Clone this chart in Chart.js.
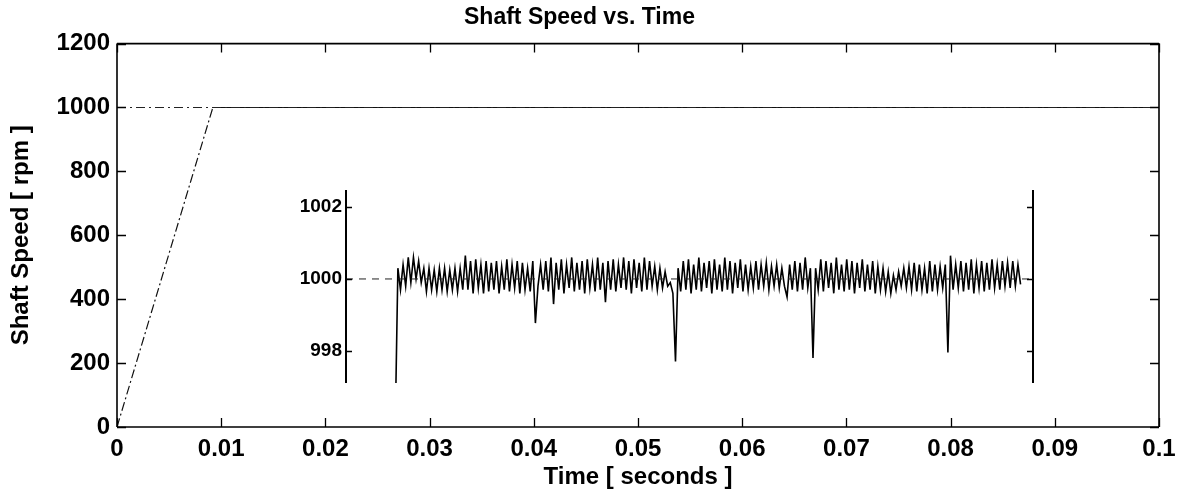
<!DOCTYPE html>
<html>
<head>
<meta charset="utf-8">
<script src="https://cdn.jsdelivr.net/npm/chart.js@4.4.0/dist/chart.umd.min.js"></script>
<style>
  body { margin: 0; background: #fff; }
  #wrap { position: relative; width: 1187px; height: 500px; }
  #mainChart { position: absolute; left: 0; top: 0; }
  #insetChart { position: absolute; left: 290px; top: 180px; }
</style>
</head>
<body>
<div id="wrap">
  <canvas id="mainChart" width="1187" height="500"></canvas>
  <canvas id="insetChart" width="760" height="215"></canvas>
</div>
<script>
// Main plot: shaft speed ramp and the 1000 rpm reference
const speedTime = [0, 0.0092, 0.1];
const speedValue = [0, 1000, 1000];
const refTime = [0, 0.1];
const refValue = [1000, 1000];
const xTicks = [0, 0.01, 0.02, 0.03, 0.04, 0.05, 0.06, 0.07, 0.08, 0.09, 0.1];
const yTicks = [0, 200, 400, 600, 800, 1000, 1200];

// Inset: zoom on the speed around 1000 rpm
const insetTicks = [998, 1000, 1002];
const insetStart = 0.02675;  // first sample [s]
const insetStep = 0.00025;   // sample spacing [s]
const insetSpeed = [
  996.0,
  1000.3, 999.7, 1000.4, 999.8, 1000.6, 999.9, 1000.6, 1000.0, 1000.5, 999.9,
  1000.3, 999.65, 1000.3, 999.7, 1000.25, 999.65, 1000.3, 999.7, 1000.3, 999.65,
  1000.25, 999.7, 1000.3, 999.65, 1000.3, 999.7,
  1000.65, 999.7, 1000.5, 999.6, 1000.55, 999.75, 1000.4, 999.6, 1000.5, 999.65,
  1000.45, 999.7, 1000.5, 999.6, 1000.35, 999.7, 1000.55, 999.65, 1000.4, 999.75,
  1000.5, 999.6, 1000.45, 999.7, 1000.3, 999.65, 1000.5,
  998.77,
  999.8, 1000.4, 999.7, 1000.5, 999.65, 1000.6, 999.3, 1000.45, 999.7, 1000.55,
  999.6, 1000.4, 999.75, 1000.6, 999.65, 1000.45, 999.7, 1000.5, 999.6, 1000.55,
  999.75, 1000.4, 999.65, 1000.6, 999.7, 1000.45,
  999.35,
  1000.5, 999.7, 1000.55, 999.65, 1000.4, 999.75, 1000.6, 999.7, 1000.5, 999.6,
  1000.55, 999.75, 1000.45, 999.65, 1000.6, 999.7, 1000.5, 999.8, 1000.35, 999.7,
  1000.3, 999.75, 1000.2, 999.8, 999.9, 999.6,
  997.7,
  1000.3, 999.65, 1000.5, 999.7, 1000.55, 999.6, 1000.4, 999.7, 1000.6, 999.65,
  1000.45, 999.75, 1000.5, 999.6, 1000.55, 999.7, 1000.4, 999.65, 1000.6, 999.7,
  1000.5, 999.6, 1000.45, 999.75, 1000.55, 999.65, 1000.4, 999.7, 1000.35, 999.75,
  1000.5, 999.7, 1000.4, 999.8, 1000.45, 999.7, 1000.35, 999.8, 1000.4, 999.75,
  1000.3, 999.8, 999.5, 1000.4, 999.7, 1000.5, 999.65, 1000.45, 999.7, 1000.6,
  999.75, 1000.3,
  997.8,
  1000.3, 999.7, 1000.55, 999.65, 1000.5, 999.75, 1000.45, 999.6, 1000.6, 999.7,
  1000.4, 999.65, 1000.55, 999.7, 1000.5, 999.6, 1000.45, 999.75, 1000.55, 999.65,
  1000.4, 999.7, 1000.5, 999.6, 1000.35, 999.7, 1000.3, 999.65, 1000.2, 999.6,
  1000.1, 999.7, 1000.2, 999.8, 1000.3, 999.75, 1000.35, 999.7, 1000.45, 999.65,
  1000.4, 999.7, 1000.3, 999.6, 1000.5, 999.65, 1000.4, 999.7, 1000.35, 999.75,
  1000.4,
  997.95,
  1000.65, 999.7, 1000.4, 999.75, 1000.5, 999.65, 1000.45, 999.7, 1000.55, 999.6,
  1000.4, 999.75, 1000.5, 999.65, 1000.45, 999.7, 1000.55, 999.75, 1000.4, 999.7,
  1000.5, 999.8, 1000.45, 999.75, 1000.5, 999.8, 1000.4, 999.85
];
const insetRefTime = [0.022, 0.0882];
const insetRefValue = [1000, 1000];

const FONT = '"Liberation Sans", Arial, sans-serif';

// MATLAB style box: frame lines plus inward tick marks on each side
const frameTicks = {
  id: 'frameTicks',
  afterDatasetsDraw(chart, args, opts) {
    const { ctx, chartArea: a, scales } = chart;
    const len = opts.tickLength;
    ctx.save();
    ctx.strokeStyle = '#000';
    ctx.lineWidth = opts.lineWidth;
    ctx.beginPath();
    opts.sides.forEach(s => {
      if (s === 'left') { ctx.moveTo(a.left, a.top); ctx.lineTo(a.left, a.bottom); }
      if (s === 'right') { ctx.moveTo(a.right, a.top); ctx.lineTo(a.right, a.bottom); }
      if (s === 'top') { ctx.moveTo(a.left, a.top); ctx.lineTo(a.right, a.top); }
      if (s === 'bottom') { ctx.moveTo(a.left, a.bottom); ctx.lineTo(a.right, a.bottom); }
    });
    ctx.stroke();
    ctx.lineWidth = 1.3;
    ctx.beginPath();
    if (opts.xTicks) {
      scales.x.ticks.forEach(t => {
        const px = Math.round(scales.x.getPixelForValue(t.value)) + 0.5;
        if (opts.sides.includes('bottom')) { ctx.moveTo(px, a.bottom); ctx.lineTo(px, a.bottom - len); }
        if (opts.sides.includes('top')) { ctx.moveTo(px, a.top); ctx.lineTo(px, a.top + len); }
      });
    }
    scales.y.ticks.forEach(t => {
      const py = Math.round(scales.y.getPixelForValue(t.value)) + 0.5;
      if (opts.sides.includes('left')) { ctx.moveTo(a.left, py); ctx.lineTo(a.left + len, py); }
      if (opts.sides.includes('right')) { ctx.moveTo(a.right, py); ctx.lineTo(a.right - len, py); }
    });
    ctx.stroke();
    ctx.restore();
  }
};

const toXY = (xs, ys) => xs.map((x, i) => ({ x: x, y: ys[i] }));

const mainChart = new Chart(document.getElementById('mainChart'), {
  type: 'line',
  data: {
    datasets: [
      {
        data: toXY(refTime, refValue),
        borderColor: '#222',
        borderWidth: 1,
        borderDash: [9, 4, 2, 4],
        pointRadius: 0
      },
      {
        data: toXY(speedTime, speedValue),
        borderColor: '#111',
        borderWidth: 1.2,
        pointRadius: 0,
        segment: {
          borderDash: c => c.p0DataIndex === 0 ? [9, 3, 2, 3] : undefined
        }
      }
    ]
  },
  options: {
    responsive: false,
    animation: false,
    layout: { padding: { left: 0, right: 28, top: 0, bottom: 0 } },
    plugins: {
      legend: { display: false },
      tooltip: { enabled: false },
      title: {
        display: true,
        text: 'Shaft Speed vs. Time',
        color: '#000',
        font: { family: FONT, size: 23, weight: 'bold' },
        padding: { top: 4, bottom: 12 }
      },
      frameTicks: { sides: ['left', 'right', 'top', 'bottom'], tickLength: 9, lineWidth: 1.6, xTicks: true }
    },
    scales: {
      x: {
        type: 'linear',
        min: 0,
        max: 0.1,
        afterBuildTicks: s => { s.ticks = xTicks.map(v => ({ value: v })); },
        afterFit: s => { s.height = 73; },
        grid: { display: false, drawTicks: false },
        border: { display: false },
        ticks: {
          color: '#000',
          padding: 8,
          maxRotation: 0,
          font: { family: FONT, size: 24, weight: 'bold' },
          callback: v => String(+v.toFixed(2))
        },
        title: {
          display: true,
          text: 'Time [ seconds ]',
          color: '#000',
          font: { family: FONT, size: 24, weight: 'bold' },
          padding: { top: 0, bottom: 8 }
        }
      },
      y: {
        min: 0,
        max: 1200,
        afterBuildTicks: s => { s.ticks = yTicks.map(v => ({ value: v })); },
        afterFit: s => { s.width = 117; },
        grid: { display: false, drawTicks: false },
        border: { display: false },
        ticks: {
          color: '#000',
          padding: 7,
          font: { family: FONT, size: 24, weight: 'bold' },
          callback: v => String(v)
        },
        title: {
          display: true,
          text: 'Shaft Speed [ rpm ]',
          color: '#000',
          font: { family: FONT, size: 24, weight: 'bold' },
          padding: { top: 7, bottom: 0 }
        }
      }
    }
  },
  plugins: [frameTicks]
});

const insetChart = new Chart(document.getElementById('insetChart'), {
  type: 'line',
  data: {
    datasets: [
      {
        data: toXY(insetRefTime, insetRefValue),
        borderColor: '#222',
        borderWidth: 1,
        borderDash: [7, 6],
        pointRadius: 0
      },
      {
        data: insetSpeed.map((v, i) => ({ x: insetStart + i * insetStep, y: v })),
        borderColor: '#000',
        borderWidth: 1.6,
        pointRadius: 0
      }
    ]
  },
  options: {
    responsive: false,
    animation: false,
    layout: { padding: { left: 0, right: 17, top: 10, bottom: 12 } },
    plugins: {
      legend: { display: false },
      tooltip: { enabled: false },
      frameTicks: { sides: ['left', 'right'], tickLength: 6, lineWidth: 2, xTicks: false }
    },
    scales: {
      x: {
        type: 'linear',
        min: 0.022,
        max: 0.0882,
        display: false
      },
      y: {
        min: 997.1,
        max: 1002.48,
        afterBuildTicks: s => { s.ticks = insetTicks.map(v => ({ value: v })); },
        afterFit: s => { s.width = 56; s.paddingTop = 0; s.paddingBottom = 0; },
        grid: { display: false, drawTicks: false },
        border: { display: false },
        ticks: {
          color: '#000',
          padding: 4,
          font: { family: FONT, size: 19, weight: 'bold' },
          callback: v => String(v)
        }
      }
    }
  },
  plugins: [frameTicks]
});
</script>
</body>
</html>
